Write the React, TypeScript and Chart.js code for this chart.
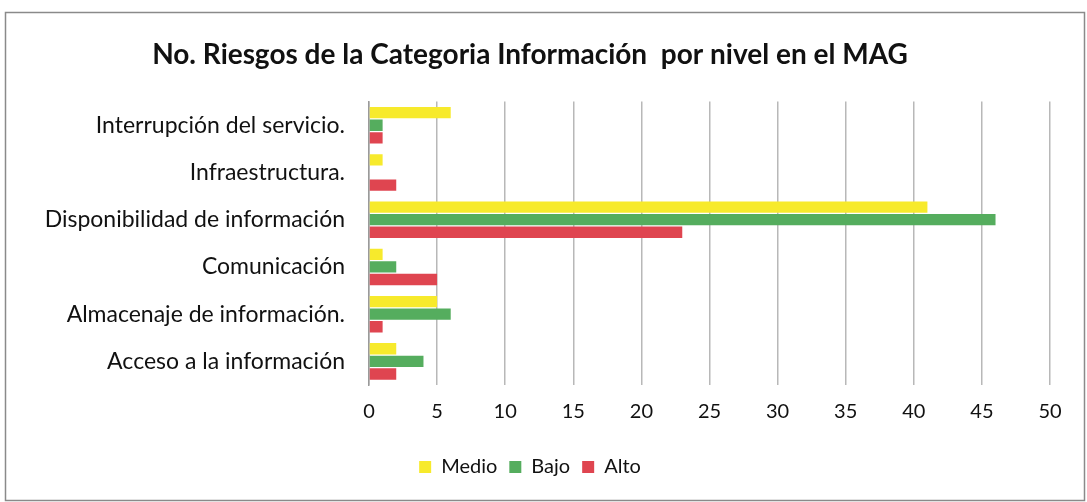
import React, { useEffect, useRef } from "react";
import { Chart, registerables } from "chart.js";

Chart.register(...registerables);

const categories = [
  "Interrupción del servicio.",
  "Infraestructura.",
  "Disponibilidad de información",
  "Comunicación",
  "Almacenaje de información.",
  "Acceso a la información",
];
const medio = [6, 1, 41, 1, 5, 2];
const bajo = [1, 0, 46, 2, 6, 4];
const alto = [1, 2, 23, 5, 1, 2];
const seriesNames = ["Medio", "Bajo", "Alto"];
const title = "No. Riesgos de la Categoria Información  por nivel en el MAG";

const FONT = "Lato, 'Open Sans', sans-serif";

const framePlugin = {
  id: "frame",
  beforeDraw(chart: any) {
    const ctx = chart.ctx;
    ctx.save();
    ctx.fillStyle = "#ffffff";
    ctx.fillRect(0, 0, chart.width, chart.height);
    ctx.strokeStyle = "#8a8a8a";
    ctx.lineWidth = 1.5;
    ctx.strokeRect(5.5, 12.5, chart.width - 8, chart.height - 14);
    ctx.restore();
  },
};

export default function App() {
  const ref = useRef<HTMLCanvasElement>(null);
  useEffect(() => {
    document.body.style.margin = "0";
    const chart = new Chart(ref.current!, {
      type: "bar",
      data: {
        labels: categories,
        datasets: [
          { label: seriesNames[0], data: medio, backgroundColor: "#F7EA2C" },
          { label: seriesNames[1], data: bajo, backgroundColor: "#55AD5E" },
          { label: seriesNames[2], data: alto, backgroundColor: "#DF4550" },
        ],
      },
      options: {
        indexAxis: "y",
        animation: false,
        responsive: false,
        layout: { padding: { left: 10, right: 37, top: 0, bottom: 15 } },
        datasets: {
          bar: { categoryPercentage: 0.8, barPercentage: 0.9 },
        },
        scales: {
          x: {
            min: 0,
            max: 50,
            ticks: {
              stepSize: 5,
              color: "#111",
              font: { family: FONT, size: 20 },
              padding: 15,
            },
            grid: { color: "#b8b8b8", lineWidth: 1.5, drawTicks: false },
            border: { display: false },
            afterFit: (s: any) => {
              s.height = 60;
            },
          },
          y: {
            ticks: {
              color: "#111",
              font: { family: FONT, size: 23 },
              padding: 24,
            },
            grid: { display: false, drawTicks: false },
            border: { display: true, color: "#9a9a9a", width: 1.5 },
            afterFit: (s: any) => {
              s.width = 359;
            },
          },
        },
        plugins: {
          title: {
            display: true,
            text: title,
            color: "#111",
            font: { family: FONT, size: 28, weight: "bold" },
            padding: { top: 38, bottom: 30 },
          },
          legend: {
            position: "bottom",
            labels: {
              boxWidth: 12,
              boxHeight: 12,
              color: "#111",
              font: { family: FONT, size: 20 },
              padding: 12,
            },
          },
          tooltip: { enabled: false },
        },
      },
      plugins: [framePlugin],
    });
    return () => chart.destroy();
  }, []);
  return <canvas ref={ref} width={1087} height={502} style={{ display: "block" }} />;
}
